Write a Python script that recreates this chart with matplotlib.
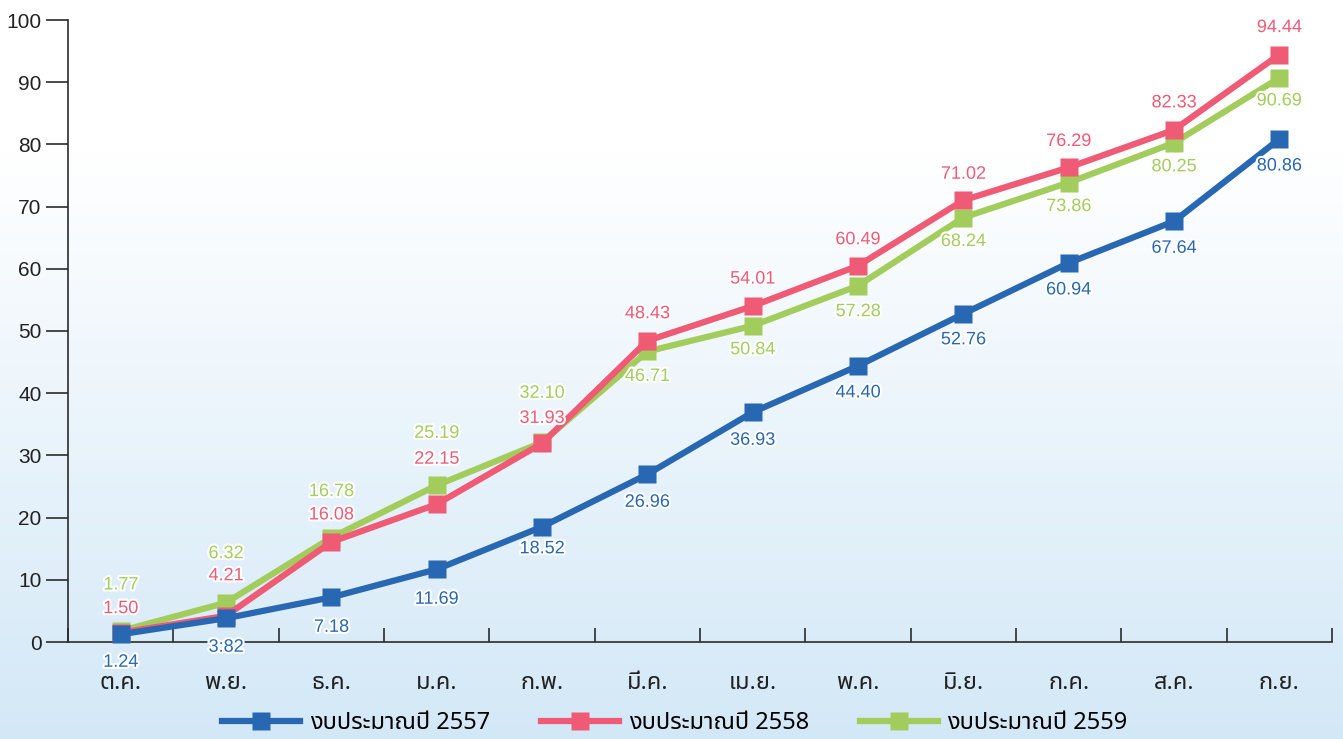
import numpy as np
import matplotlib
matplotlib.use("Agg")
import matplotlib.pyplot as plt
import matplotlib.patheffects as pe
from matplotlib import font_manager
from matplotlib.colors import to_rgb
from matplotlib.lines import Line2D
from matplotlib.ticker import FixedLocator

months = ["ต.ค.", "พ.ย.", "ธ.ค.", "ม.ค.", "ก.พ.", "มี.ค.",
          "เม.ย.", "พ.ค.", "มิ.ย.", "ก.ค.", "ส.ค.", "ก.ย."]
series_names = ["งบประมาณปี 2557", "งบประมาณปี 2558", "งบประมาณปี 2559"]
budget_2557 = [1.24, 3.82, 7.18, 11.69, 18.52, 26.96, 36.93, 44.40, 52.76, 60.94, 67.64, 80.86]
budget_2558 = [1.50, 4.21, 16.08, 22.15, 31.93, 48.43, 54.01, 60.49, 71.02, 76.29, 82.33, 94.44]
budget_2559 = [1.77, 6.32, 16.78, 25.19, 32.10, 46.71, 50.84, 57.28, 68.24, 73.86, 80.25, 90.69]
# label text overrides (printed as in the original report)
label_text_2557 = {1: "3:82"}


def pick_font(candidates, fallback):
    names = {f.name for f in font_manager.fontManager.ttflist}
    for c in candidates:
        if c in names:
            return c
    return fallback


thai_font = pick_font(["Noto Sans Thai", "Anuphan", "IBM Plex Sans Thai", "Kanit"], "DejaVu Sans")
num_font = pick_font(["Liberation Sans", "Arial"], "DejaVu Sans")
plt.rcParams["font.family"] = [num_font, thai_font, "DejaVu Sans"]

BLUE = "#2867b2"
RED = "#ef5a75"
GREEN = "#a2cd5c"
AXIS = "#2b2b2b"

fig = plt.figure(figsize=(13.43, 7.39), dpi=100)

# soft white-to-blue background
bg = fig.add_axes([0, 0, 1, 1], zorder=-10)
h = 739
rows = np.arange(h)
t = np.clip((rows - 150) / (h - 150), 0, 1)[:, None]
top = np.array(to_rgb("#ffffff"))
bottom = np.array(to_rgb("#d3e8f7"))
grad = (top * (1 - t) + bottom * t)[:, None, :]
bg.imshow(grad, aspect="auto", extent=[0, 1, 0, 1], origin="upper")
bg.axis("off")

ax = fig.add_axes([68 / 1343, 1 - 642 / 739, (1332 - 68) / 1343, (642 - 20) / 739])
ax.patch.set_alpha(0)

x = np.arange(len(months))
styles = [
    (budget_2559, GREEN, 2),
    (budget_2558, RED, 3),
    (budget_2557, BLUE, 4),
]
for vals, color, z in styles:
    ax.plot(x, vals, color=color, lw=4.5, marker="s", ms=13, mec="none",
            zorder=z, solid_joinstyle="miter", clip_on=False)

# value labels, offsets in pixels from each point
off_2557 = [-28, -29, -30, -30, -22, -28, -28, -27, -26, -27, -27, -27]
off_2558 = [24, 40, 27, 45, 25, 27, 27, 26, 26, 26, 27, 27]
off_2559 = [46, 49, 46, 52, 49, -25, -24, -26, -24, -24, -24, -23]
stroke = [pe.withStroke(linewidth=3, foreground="white")]
for vals, offs, color, overrides in [
    (budget_2557, off_2557, BLUE, label_text_2557),
    (budget_2558, off_2558, RED, {}),
    (budget_2559, off_2559, GREEN, {}),
]:
    for i, (v, o) in enumerate(zip(vals, offs)):
        txt = overrides.get(i, f"{v:.2f}")
        ax.annotate(txt, (i, v), xytext=(0, o), textcoords="offset pixels",
                    ha="center", va="center", fontsize=13, color=color,
                    family=[num_font], path_effects=stroke, zorder=10,
                    annotation_clip=False)

ax.set_xlim(-0.5, 11.5)
ax.set_ylim(0, 100)
ax.set_yticks(np.arange(0, 101, 10))
ax.set_xticks(x)
ax.set_xticklabels(months, family=[thai_font, "DejaVu Sans"], fontsize=17, color="#222222")
ax.xaxis.set_minor_locator(FixedLocator(np.arange(-0.5, 12, 1)))
ax.tick_params(axis="x", which="major", length=0, pad=21)
ax.tick_params(axis="x", which="minor", direction="in", length=10, width=1.2, color=AXIS)
ax.tick_params(axis="y", direction="out", length=16, width=1.2, color=AXIS,
               labelsize=15, labelcolor="#222222", pad=3)
for side in ["top", "right"]:
    ax.spines[side].set_visible(False)
for side in ["left", "bottom"]:
    ax.spines[side].set_color(AXIS)
    ax.spines[side].set_linewidth(1.2)

handles = [Line2D([], [], color=c, lw=4.5, marker="s", ms=13, mec="none")
           for c in (BLUE, RED, GREEN)]
fig.legend(handles, series_names, loc="center", bbox_to_anchor=(675 / 1343, 1 - 723 / 739),
           ncol=3, frameon=False, handlelength=3.3, columnspacing=2.15, handletextpad=0.42,
           prop={"family": [thai_font, "DejaVu Sans"], "size": 17})

fig.savefig("out.png", dpi=100)
